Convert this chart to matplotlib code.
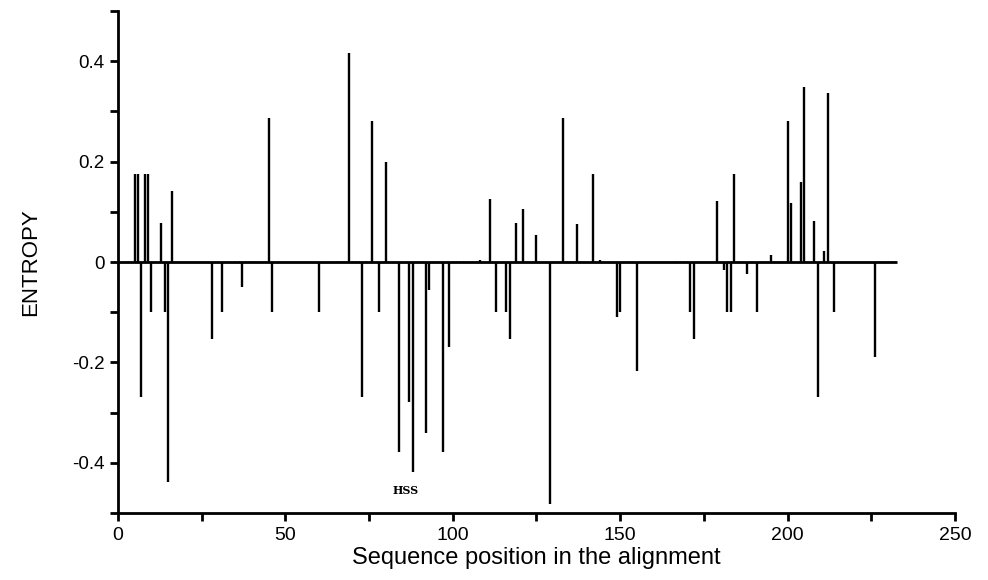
import matplotlib
matplotlib.use("Agg")
import matplotlib.pyplot as plt
from matplotlib.ticker import MultipleLocator, FuncFormatter

# Entropy difference per alignment position
positions = [5, 6, 7, 8, 9, 10, 13, 14, 15, 16, 28, 31, 37, 45, 46, 60,
             69, 73, 76, 78, 80, 84, 87, 88, 92, 93, 97, 99, 108, 111, 113,
             116, 117, 119, 121, 125, 129, 133, 137, 142, 144, 149, 150, 155,
             171, 172, 179, 181, 182, 183, 184, 188, 191, 195, 200, 201, 204,
             205, 208, 209, 211, 212, 214, 226]
entropy = [0.175, 0.175, -0.268, 0.175, 0.175, -0.1, 0.077, -0.1, -0.438, 0.142,
           -0.154, -0.1, -0.05, 0.287, -0.1, -0.1,
           0.417, -0.268, 0.281, -0.1, 0.2, -0.378, -0.278, -0.418, -0.34, -0.056,
           -0.378, -0.17, 0.005, 0.125, -0.1,
           -0.1, -0.153, 0.077, 0.105, 0.054, -0.482, 0.287, 0.076, 0.175, 0.005,
           -0.11, -0.1, -0.218,
           -0.1, -0.153, 0.121, -0.015, -0.1, -0.1, 0.176, -0.024, -0.1, 0.014,
           0.281, 0.118, 0.159,
           0.348, 0.081, -0.269, 0.022, 0.337, -0.1, -0.19]

# near-zero positions that show up as little dots on the baseline
tiny_positions = [2, 3, 35, 36, 38, 39, 40, 41, 42, 43, 44, 65, 66, 67, 68,
                  70, 71, 72, 74, 100, 101, 102, 103, 104, 105, 106, 107,
                  134, 135, 136, 138, 166, 167, 168, 169, 170, 196, 197, 198,
                  227, 228, 229, 230, 231, 232]
tiny_value = 0.003

seq_len = 232.6
hss_pos = 86
hss_y = -0.455

plt.rcParams.update({
    "font.family": ["Liberation Sans", "DejaVu Sans"],
    "axes.unicode_minus": False,
})

fig = plt.figure(figsize=(9.88, 5.8), dpi=100)
ax = fig.add_axes([0.1194, 0.1155, 0.8472, 0.8655])

ax.vlines(positions, 0, entropy, color="black", linewidth=1.7)
ax.vlines(tiny_positions, 0, [tiny_value] * len(tiny_positions),
          color="black", linewidth=1.0)
ax.hlines(0, 0, seq_len, color="black", linewidth=2)

ax.text(hss_pos, hss_y, "HSS", fontsize=8, family="DejaVu Serif",
        ha="center", va="center", weight="bold")

ax.set_xlim(0, 250)
ax.set_ylim(-0.5, 0.5)

ax.xaxis.set_major_locator(MultipleLocator(50))
ax.xaxis.set_minor_locator(MultipleLocator(25))
ax.yaxis.set_major_locator(MultipleLocator(0.2))
ax.yaxis.set_minor_locator(MultipleLocator(0.1))
ax.yaxis.set_major_formatter(FuncFormatter(lambda v, p: "0" if abs(v) < 1e-9 else f"{v:.1f}"))

ax.tick_params(axis="both", which="major", direction="out", length=6, width=2)
ax.tick_params(axis="both", which="minor", direction="out", length=6, width=2)
ax.tick_params(axis="y", labelsize=13.5)
ax.tick_params(axis="x", labelsize=14, pad=4)

ax.spines["right"].set_visible(False)
ax.spines["top"].set_visible(False)
ax.spines["left"].set_linewidth(2)
ax.spines["bottom"].set_linewidth(2)

ax.set_xlabel("Sequence position in the alignment", fontsize=17, labelpad=2)
ax.set_ylabel("ENTROPY", fontsize=16, labelpad=22)

fig.savefig("out.png", dpi=100, facecolor="white")
